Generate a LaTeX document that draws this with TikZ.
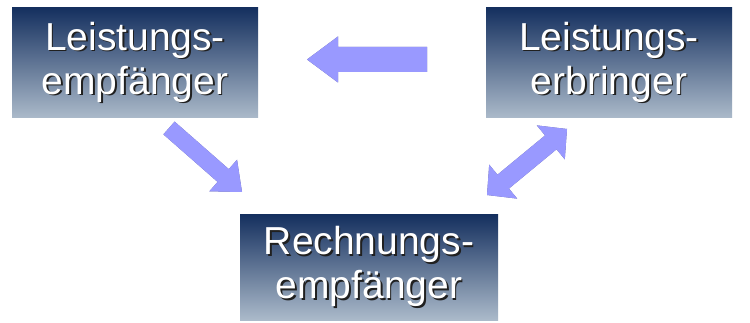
\documentclass[tikz,border=0pt]{standalone}
\usepackage{fontspec}
\setmainfont{Liberation Sans}
\usetikzlibrary{calc}
\definecolor{boxtop}{HTML}{15305F}
\definecolor{boxbot}{HTML}{ABBACA}
\definecolor{arrfill}{HTML}{9999FF}
\definecolor{arrshadow}{HTML}{5E5E9E}
\definecolor{txtshadow}{HTML}{202020}
\newcommand\shline[1]{\rlap{\hspace{1.6pt}\raisebox{-1.6pt}{\textcolor{txtshadow}{#1}}}\textcolor{white}{#1}}
% single block arrow: tail, tip, shaft half-width, head half-width, head length
\newcommand\sarrowpath[5]{%
  ($(#1)!#3!90:(#2)$) -- ($($(#2)!#5!(#1)$)!#3!90:(#2)$) -- ($($(#2)!#5!(#1)$)!#4!90:(#2)$) -- (#2)
  -- ($($(#2)!#5!(#1)$)!#4!-90:(#2)$) -- ($($(#2)!#5!(#1)$)!#3!-90:(#2)$) -- ($(#1)!#3!-90:(#2)$) -- cycle}
\newcommand\blockarrow[5]{%
  \fill[arrshadow,shift={(2pt,-2pt)}] \sarrowpath{#1}{#2}{#3}{#4}{#5};
  \fill[arrfill] \sarrowpath{#1}{#2}{#3}{#4}{#5};}
% double block arrow: tip1, tip2, shaft half, head half, head length
\newcommand\darrowpath[5]{%
  (#1) -- ($($(#1)!#5!(#2)$)!#4!90:(#1)$) -- ($($(#1)!#5!(#2)$)!#3!90:(#1)$)
  -- ($($(#2)!#5!(#1)$)!#3!-90:(#2)$) -- ($($(#2)!#5!(#1)$)!#4!-90:(#2)$) -- (#2)
  -- ($($(#2)!#5!(#1)$)!#4!90:(#2)$) -- ($($(#2)!#5!(#1)$)!#3!90:(#2)$)
  -- ($($(#1)!#5!(#2)$)!#3!-90:(#1)$) -- ($($(#1)!#5!(#2)$)!#4!-90:(#1)$) -- cycle}
\newcommand\dblockarrow[5]{%
  \fill[arrshadow,shift={(2pt,-2pt)}] \darrowpath{#1}{#2}{#3}{#4}{#5};
  \fill[arrfill] \darrowpath{#1}{#2}{#3}{#4}{#5};}
\tikzset{
  rolebox/.style={shade, top color=boxtop, bottom color=boxbot, draw=none,
    inner sep=0pt, align=center,
    font=\fontsize{39pt}{44pt}\selectfont}
}
\begin{document}
\begin{tikzpicture}[x=1pt,y=1pt]
\useasboundingbox (0,0) rectangle (750,-323);
\fill[white] (0,0) rectangle (750,-323);
\node[rolebox, minimum width=246pt, minimum height=110pt] (le) at (135,-63) {\shline{Leistungs-}\\\shline{empfänger}};
\node[rolebox, minimum width=246pt, minimum height=110pt] (lb) at (609,-63) {\shline{Leistungs-}\\\shline{erbringer}};
\node[rolebox, minimum width=258pt, minimum height=105pt] (re) at (369,-267.5) {\shline{Rechnungs-}\\\shline{empfänger}};
% arrow ends
\coordinate (a1t) at (427,-59.5);
\coordinate (a1p) at (307,-59.5);
\coordinate (a2t) at (169,-128);
\coordinate (a2p) at (242,-192);
\coordinate (a3p) at (567,-129);
\coordinate (a3q) at (487,-195);
\blockarrow{a1t}{a1p}{12.5pt}{23pt}{31pt}
\blockarrow{a2t}{a2p}{8.5pt}{21pt}{25pt}
\dblockarrow{a3p}{a3q}{9pt}{22pt}{21pt}
\end{tikzpicture}
\end{document}
